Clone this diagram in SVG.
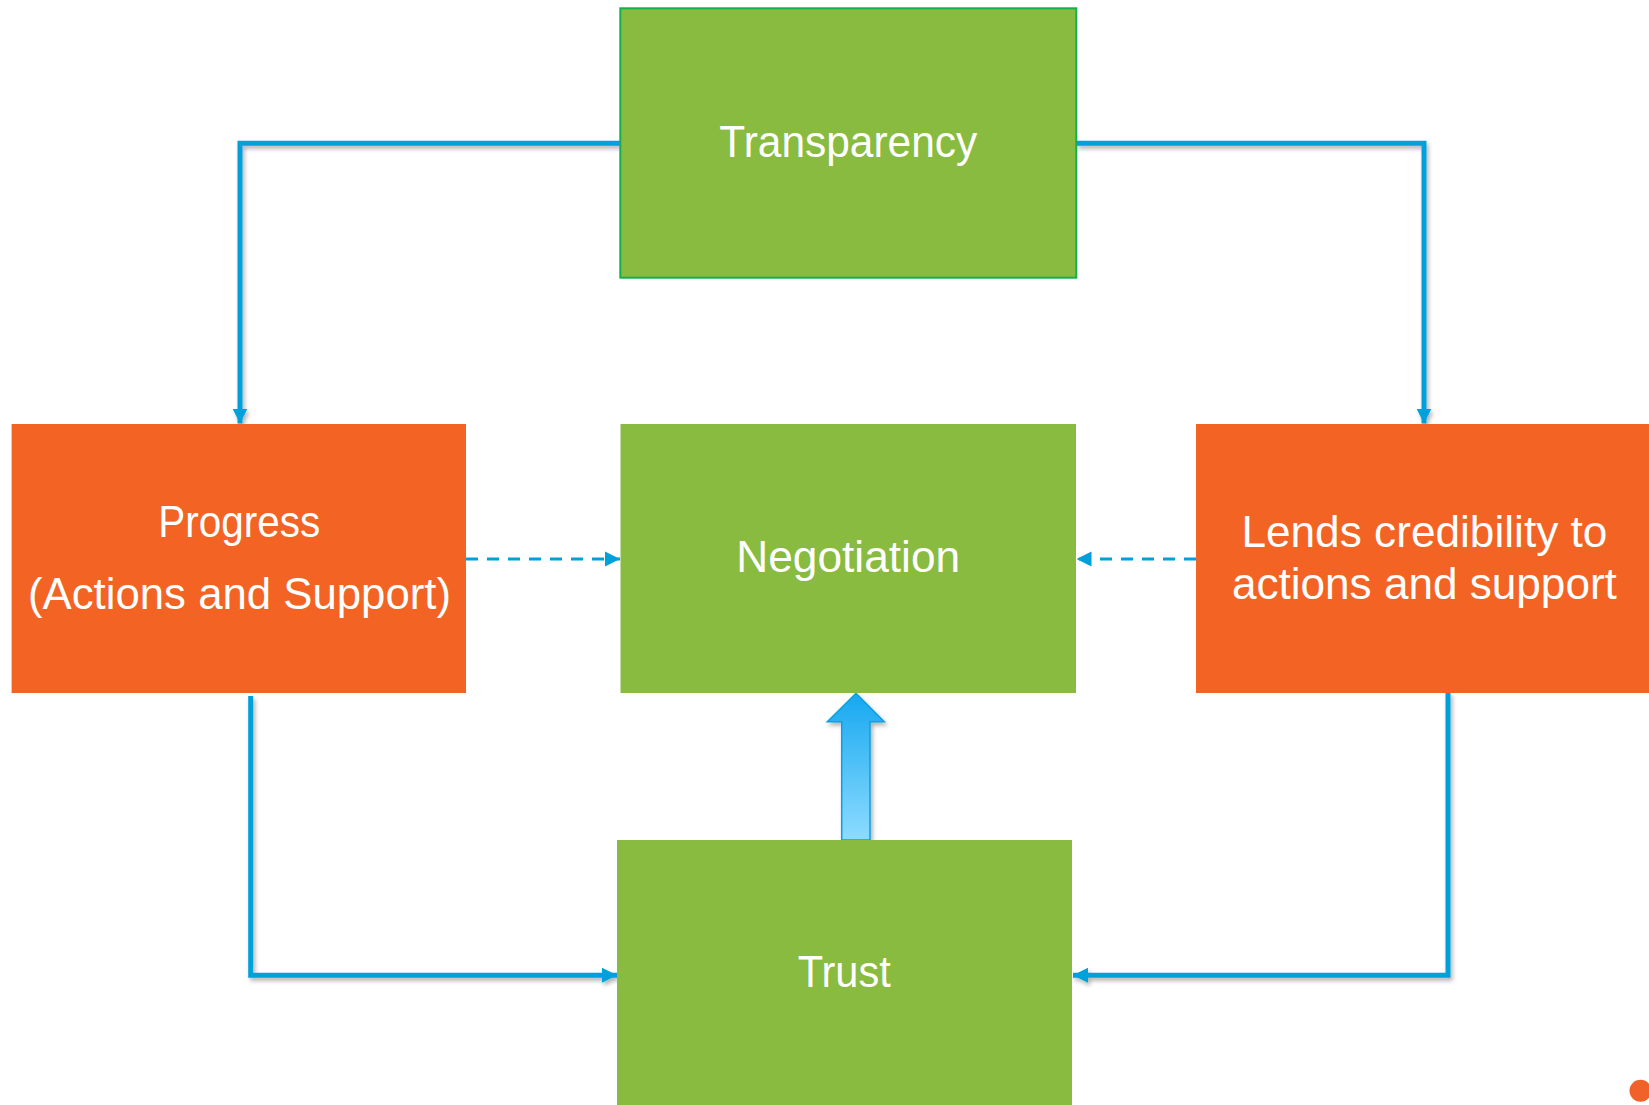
<svg xmlns="http://www.w3.org/2000/svg" width="1649" height="1105" viewBox="0 0 1649 1105">
  <style>
    .green { fill: #88bb40; }
    .orange { fill: #f26324; }
    .lbl { font-family: "Liberation Sans", Arial, sans-serif; font-size: 44px; fill: #ffffff; text-anchor: middle; }
    .conn { fill: none; stroke: #00a0da; stroke-width: 5; stroke-linejoin: miter; }
    .dash { fill: none; stroke: #00a0da; stroke-width: 3; stroke-dasharray: 12 9; }
  </style>
  <defs>
    <marker id="arr" viewBox="0 0 10 10" refX="10" refY="5" markerWidth="15" markerHeight="16" markerUnits="userSpaceOnUse" orient="auto">
      <path d="M0,0 L10,5 L0,10 z" fill="#00a0da"/>
    </marker>
    <filter id="sh" x="-10%" y="-10%" width="130%" height="130%">
      <feDropShadow dx="2" dy="3" stdDeviation="2" flood-color="#000000" flood-opacity="0.3"/>
    </filter>
    <linearGradient id="bg" x1="0" y1="0" x2="0" y2="1">
      <stop offset="0" stop-color="#16a8f0"/>
      <stop offset="1" stop-color="#8ddcff"/>
    </linearGradient>
  </defs>
  <rect width="1649" height="1105" fill="#ffffff"/>

  <g id="connectors">
    <polyline class="conn" filter="url(#sh)" points="620,143.3 240,143.3 240,423.5" marker-end="url(#arr)"/>
    <polyline class="conn" filter="url(#sh)" points="1076,143.3 1424,143.3 1424,423.5" marker-end="url(#arr)"/>
    <polyline class="conn" filter="url(#sh)" points="250.7,696 250.7,975.3 617,975.3" marker-end="url(#arr)"/>
    <polyline class="conn" filter="url(#sh)" points="1448,692 1448,975.3 1073,975.3" marker-end="url(#arr)"/>
    <line class="dash" x1="466" y1="559" x2="620" y2="559" marker-end="url(#arr)"/>
    <line class="dash" x1="1196" y1="559" x2="1076.5" y2="559" marker-end="url(#arr)"/>
    <path filter="url(#sh)" d="M841.7,840 L841.7,721.7 L827.3,721.7 L856,693.3 L884.3,721.7 L870,721.7 L870,840 z" fill="url(#bg)" stroke="#0aa0e0" stroke-width="1.5"/>
  </g>

  <g id="transparency">
    <rect x="620.3" y="8.3" width="456" height="269.4" class="green" stroke="#13b04b" stroke-width="2"/>
    <text class="lbl" x="848.3" y="156.7" textLength="258" lengthAdjust="spacingAndGlyphs">Transparency</text>
  </g>

  <g id="progress">
    <rect x="11.6" y="424" width="454.4" height="269" class="orange"/>
    <text class="lbl" x="239.2" y="536.5" textLength="162" lengthAdjust="spacingAndGlyphs">Progress</text>
    <text class="lbl" x="239.5" y="608.5" textLength="423" lengthAdjust="spacingAndGlyphs">(Actions and Support)</text>
  </g>

  <g id="negotiation">
    <rect x="620.5" y="424" width="455.5" height="269" class="green"/>
    <text class="lbl" x="848.2" y="572.3" textLength="224" lengthAdjust="spacingAndGlyphs">Negotiation</text>
  </g>

  <g id="lends">
    <rect x="1196" y="424" width="453" height="269" class="orange"/>
    <text class="lbl" x="1424.4" y="547" textLength="366" lengthAdjust="spacingAndGlyphs">Lends credibility to</text>
    <text class="lbl" x="1424.4" y="599" textLength="385" lengthAdjust="spacingAndGlyphs">actions and support</text>
  </g>

  <g id="trust">
    <rect x="617" y="840" width="455" height="265" class="green"/>
    <text class="lbl" x="844.2" y="986.7" textLength="93" lengthAdjust="spacingAndGlyphs">Trust</text>
  </g>

  <g id="dot">
    <circle cx="1640.5" cy="1090.7" r="11" fill="#f0622a"/>
  </g>
</svg>
